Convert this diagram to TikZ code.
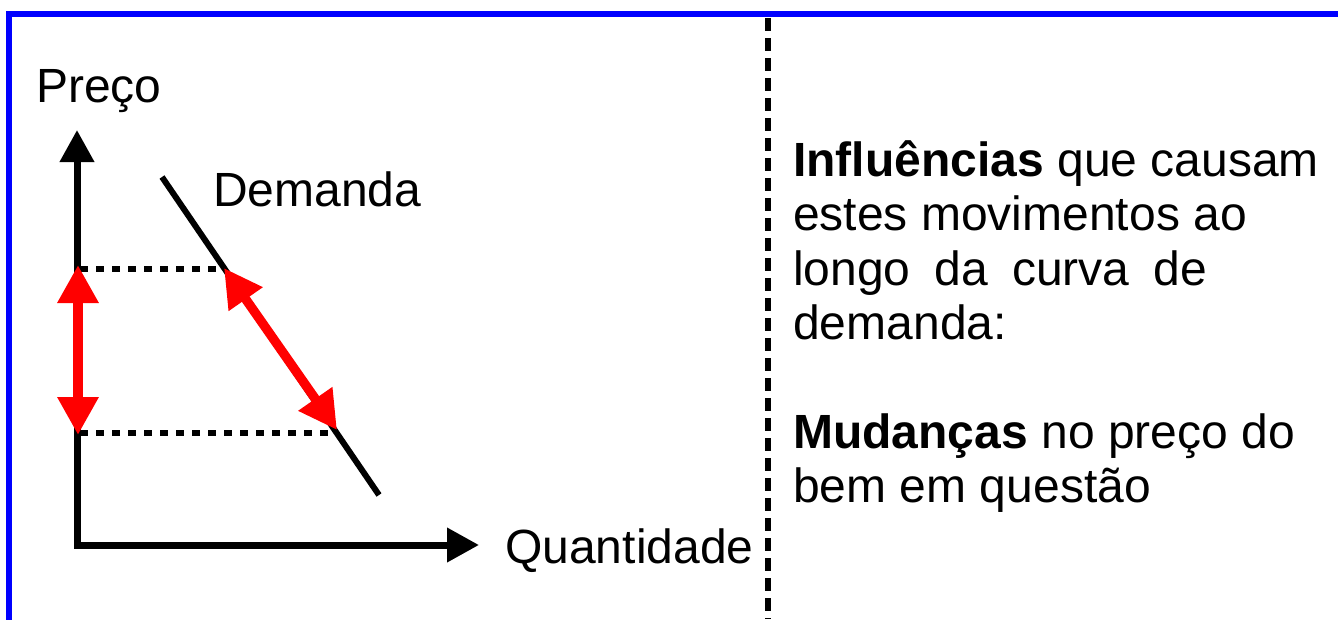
\documentclass[tikz,border=0pt]{standalone}
\usepackage{fontspec}
\setmainfont{Liberation Sans}
\usetikzlibrary{arrows.meta}
\definecolor{frameblue}{RGB}{0,0,255}
\definecolor{arrred}{RGB}{255,0,0}
\begin{document}
\begin{tikzpicture}[x=0.75pt,y=-0.75pt,
  txt/.style={inner sep=0pt,anchor=base west,font=\fontsize{36pt}{41.4pt}\selectfont},
  axis/.style={line width=5.25pt,-{Triangle[length=24pt,width=24.75pt]},miter limit=10},
  demand/.style={line width=4.5pt},
  dotline/.style={line width=4.8pt,dash pattern=on 6pt off 6pt},
  divider/.style={line width=4.8pt,dash pattern=on 9.75pt off 5.25pt},
  redarrow/.style={arrred,line width=7pt,{Triangle[length=28.5pt,width=29.25pt]}-{Triangle[length=28.5pt,width=29.25pt]}},
  frame/.style={frameblue,line width=4.5pt,miter limit=10}]
\useasboundingbox (0,0) rectangle (1338,619);
% frame
\coordinate (fb) at (9,625);
\coordinate (fc) at (9,14);
\coordinate (fr) at (1345,14);
\draw[frame] (fb) -- (fc) -- (fr);
% divider
\coordinate (dt) at (768,18);
\coordinate (db) at (768,619);
\draw[divider] (dt) -- (db);
% axes
\coordinate (ytip) at (77,130);
\coordinate (origin) at (77,545);
\coordinate (xtip) at (479,545);
\draw[axis] (origin) -- (ytip);
\draw[axis] (origin) -- (xtip);
\fill (73.5,541.5) rectangle (80.5,548.5);
% demand curve
\coordinate (d1) at (162,177);
\coordinate (d2) at (379,495);
\draw[demand] (d1) -- (d2);
% dotted guides
\coordinate (pa) at (80,269);
\coordinate (qa) at (226,269);
\coordinate (pb) at (80,433);
\coordinate (qb) at (337,433);
\draw[dotline] (pa) -- (qa);
\draw[dotline] (pb) -- (qb);
% red arrows
\coordinate (ra1) at (78,265);
\coordinate (ra2) at (78,435);
\draw[redarrow] (ra1) -- (ra2);
\coordinate (rb1) at (224,268);
\coordinate (rb2) at (337,430);
\draw[redarrow] (rb1) -- (rb2);
% labels
\node[txt] (preco) at (36,102) {Preço};
\node[txt] (dem) at (213,206) {Demanda};
\node[txt] (quant) at (505,563) {Quantidade};
\node[txt] (l1) at (793,176) {\textbf{Influências} que causam};
\node[txt] (l2) at (793,230.5) {estes movimentos ao};
\node[txt] (l3) at (793,285) {\spaceskip=18pt longo da curva de};
\node[txt] (l4) at (793,339.5) {demanda:};
\node[txt] (l5) at (793,448) {\textbf{Mudanças} no preço do};
\node[txt] (l6) at (793,502.5) {bem em questão};
\end{tikzpicture}
\end{document}
